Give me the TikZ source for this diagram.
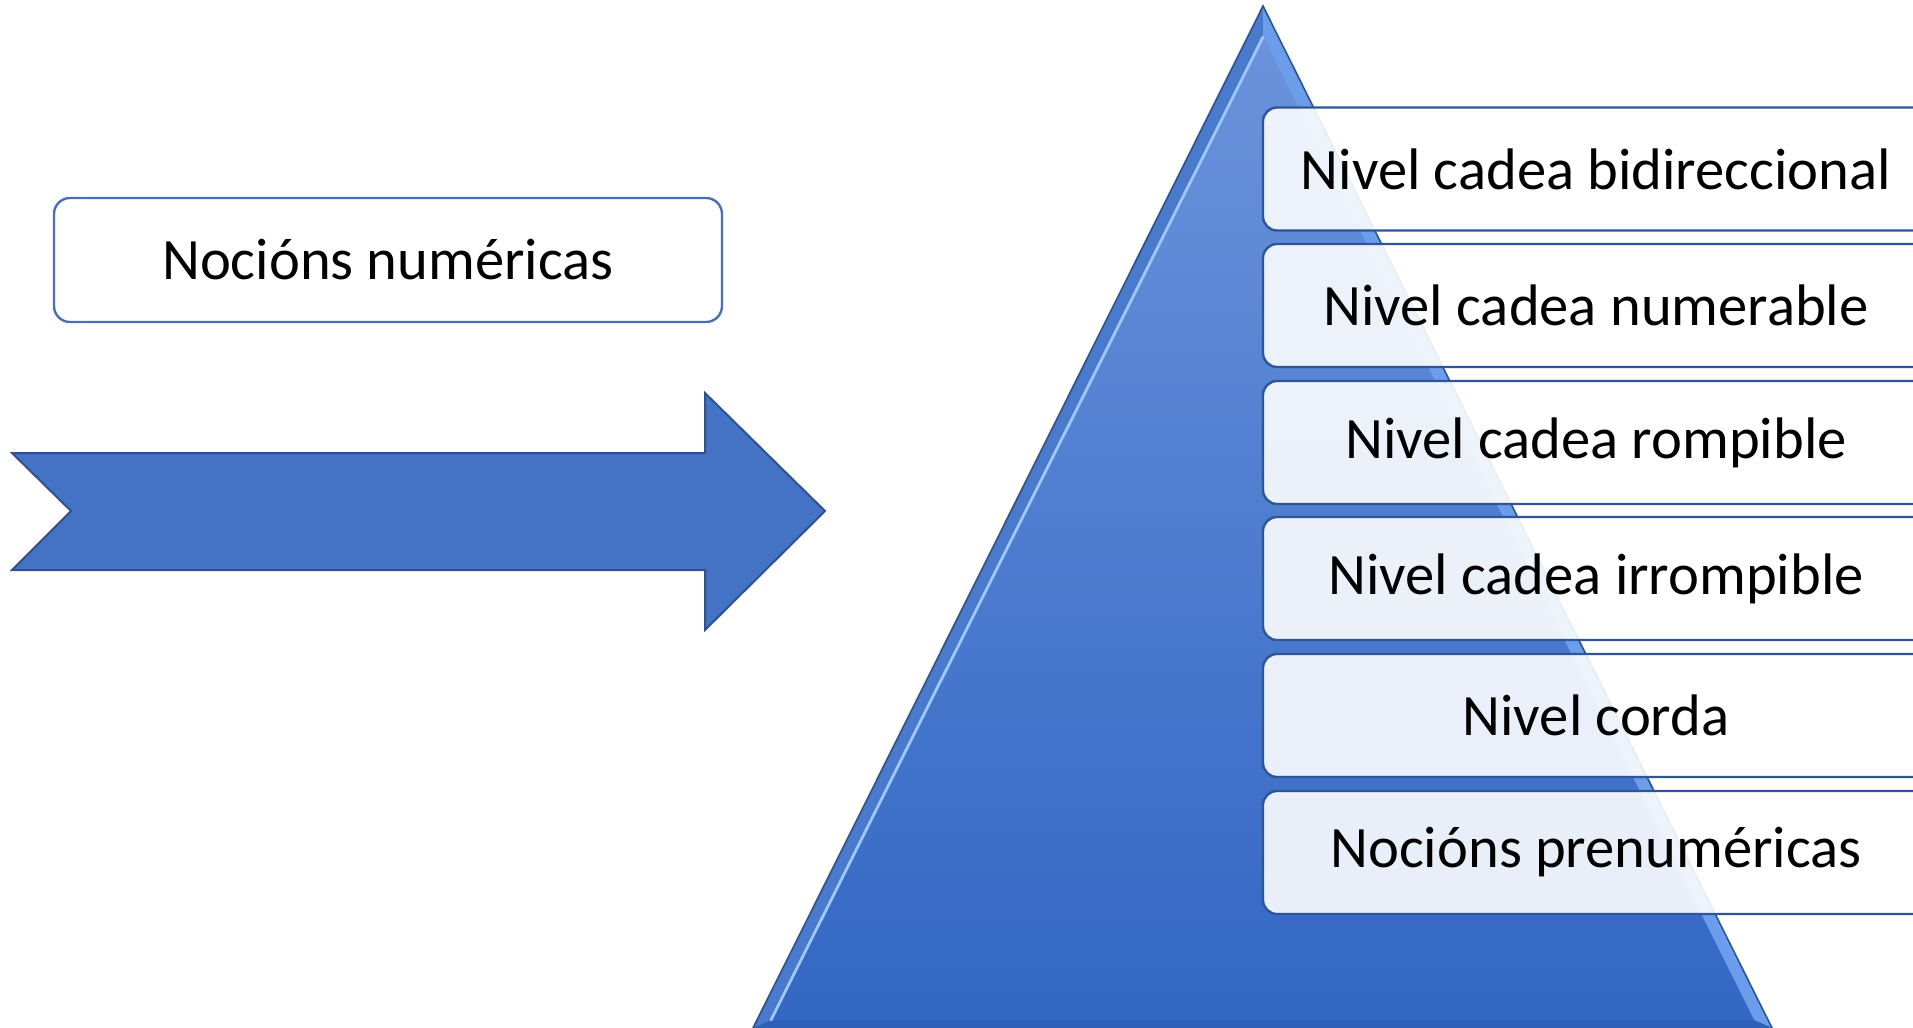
\documentclass[tikz,border=0pt]{standalone}
\usepackage{fontspec}
\setmainfont{Carlito}
\begin{document}
\begin{tikzpicture}[x=0.5pt,y=-0.5pt,
  levelbox/.style={draw=boxline, line width=1.2pt, rounded corners=7pt, fill=white, fill opacity=0.89, text opacity=1,
    minimum width=333pt, minimum height=61.5pt, inner sep=0pt, font=\fontsize{29.3}{35}\selectfont},
  titlebox/.style={draw=boxline2, line width=1.2pt, rounded corners=8pt, fill=white,
    minimum width=334pt, minimum height=62pt, inner sep=0pt, font=\fontsize{29.3}{35}\selectfont}]
\definecolor{boxline}{HTML}{2F5597}
\definecolor{boxline2}{HTML}{4A6FB5}
\definecolor{arrowfill}{HTML}{4472C4}
\definecolor{arrowline}{HTML}{2F528F}
\definecolor{pyrouter}{HTML}{4A7ACB}
\definecolor{pyrright}{HTML}{6C9DEB}
\definecolor{pyrtop}{HTML}{6A93DB}
\definecolor{pyrbot}{HTML}{3367C4}
\definecolor{pyrhi}{HTML}{A0C8FF}
\useasboundingbox (0,0) rectangle (1913,1028);
\clip (0,0) rectangle (1913,1028);
% pyramid
\fill[pyrouter] (1263,6) -- (1772,1028) -- (753,1028) -- cycle;
\fill[pyrright] (1263,6) -- (1772,1028) -- (1754,1020) -- (1263,37) -- cycle;
\shade[top color=pyrtop, bottom color=pyrbot] (1263,37) -- (1754,1020) -- (771,1020) -- cycle;
\fill[pyrbot!94!black] (771,1020) -- (1754,1020) -- (1772,1028) -- (753,1028) -- cycle;
\draw[pyrhi, line width=1.4pt, line cap=round] (1263,37) -- (771,1020);
\draw[arrowline, line width=0.8pt] (753,1028) -- (1263,6) -- (1772,1028);
% arrow
\draw[arrowline, line width=1pt, fill=arrowfill, line join=miter]
  (12,453) -- (705,453) -- (705,393) -- (825,511) -- (705,630) -- (705,570) -- (12,570) -- (71,511) -- cycle;
% left box
\node[titlebox] (num) at (388,260) {Nocións numéricas};
% level boxes
\node[levelbox] (l1) at (1596,169) {Nivel cadea bidireccional};
\node[levelbox] (l2) at (1596,305.5) {Nivel cadea numerable};
\node[levelbox] (l3) at (1596,442.5) {Nivel cadea rompible};
\node[levelbox] (l4) at (1596,578.5) {Nivel cadea irrompible};
\node[levelbox] (l5) at (1596,715.5) {Nivel corda};
\node[levelbox] (l6) at (1596,852.5) {Nocións prenuméricas};
\end{tikzpicture}
\end{document}
